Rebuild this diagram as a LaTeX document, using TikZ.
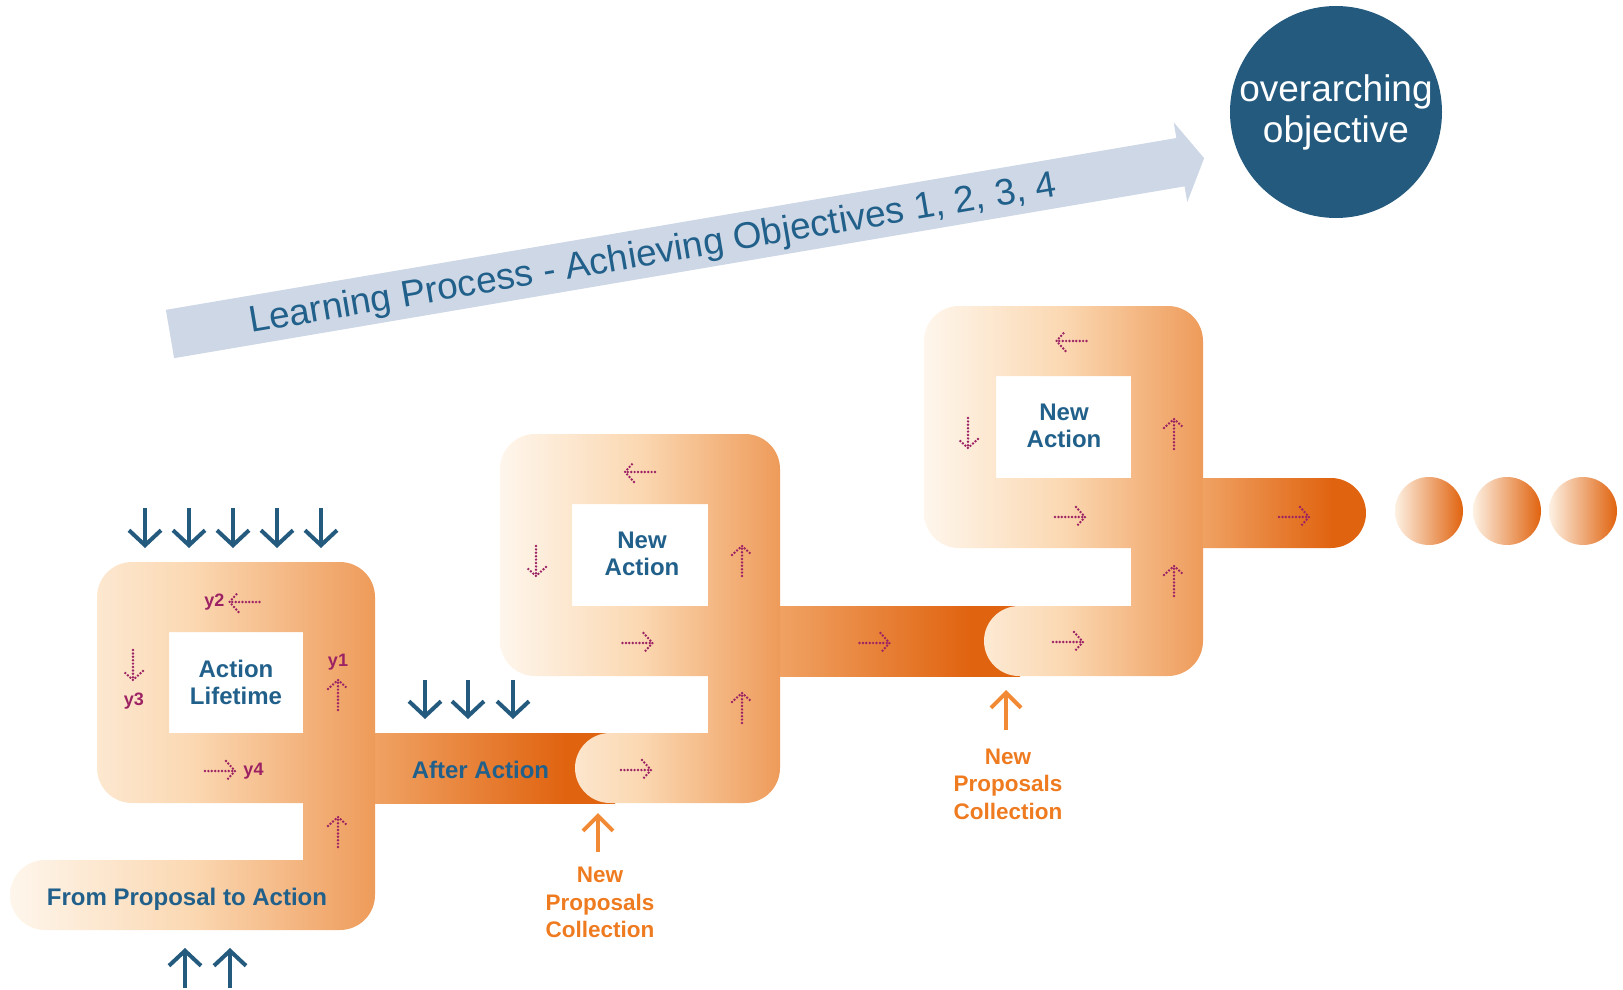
\documentclass[tikz,border=0pt]{standalone}
\usepackage{fontspec}
\setmainfont{Liberation Sans}
\usetikzlibrary{arrows.meta}
\definecolor{pcA}{HTML}{FEF6EC}
\definecolor{pcM}{HTML}{FBD8B2}
\definecolor{pcB}{HTML}{EE9B5A}
\definecolor{dkA}{HTML}{F0A365}
\definecolor{dkB}{HTML}{E0630F}
\definecolor{circA}{HTML}{FDF1E3}
\definecolor{navy}{HTML}{235A7E}
\definecolor{txtblue}{HTML}{21608A}
\definecolor{purp}{HTML}{9C2264}
\definecolor{orng}{HTML}{EF7B20}
\definecolor{orarrow}{HTML}{F28A35}
\definecolor{paleblue}{HTML}{CDD7E5}
\pgfdeclarehorizontalshading{pieceshade}{100bp}{color(0bp)=(pcA); color(25bp)=(pcA); color(50bp)=(pcM); color(75bp)=(pcB); color(100bp)=(pcB)}
\pgfdeclarehorizontalshading{darkshade}{100bp}{color(0bp)=(dkA); color(25bp)=(dkA); color(65bp)=(dkB); color(100bp)=(dkB)}
\newcommand\mypiece[6]{%
  \shade[shading=pieceshade, even odd rule]
   (#3-72,#5) -- (#3-72,#4) -- (#1+35,#4)
   .. controls (#1+15.7,#4) and (#1,#4-15.7) .. (#1,#4-35)
   -- (#1,#2+35) .. controls (#1,#2+15.7) and (#1+15.7,#2) .. (#1+35,#2)
   -- (#3-35,#2) .. controls (#3-15.7,#2) and (#3,#2+15.7) .. (#3,#2+35)
   -- (#3,#5+35) .. controls (#3,#5+54.3) and (#3-15.7,#5+70) .. (#3-35,#5+70)
   -- (#6+35,#5+70) .. controls (#6+15.7,#5+70) and (#6,#5+54.3) .. (#6,#5+35)
   .. controls (#6,#5+15.7) and (#6+15.7,#5) .. (#6+35,#5) -- cycle
   (#1+72,#2+70) rectangle (#3-72,#4-70);
}
\tikzset{
 lbl/.style={text=txtblue, font=\fontsize{24}{27}\selectfont\bfseries, align=center, inner sep=0pt},
 ylbl/.style={text=purp, font=\fontsize{18}{20}\selectfont\bfseries, inner sep=0pt},
 olbl/.style={text=orng, font=\fontsize{22.5}{27.5}\selectfont\bfseries, align=center, inner sep=0pt},
 bluearr/.style={draw=navy, line width=4pt, -{Straight Barb[length=15pt,width=32pt]}},
 orarr/.style={draw=orarrow, line width=4pt, -{Straight Barb[length=15pt,width=30pt]}},
 dotline/.style={draw=purp, line width=2.7pt, line cap=round, dash pattern=on 0pt off 3.4pt},
 darr/.pic={\draw[dotline] (-15,0) -- (15,0); \draw[dotline] (6,-10) -- (15,0) -- (6,10);},
}
\begin{document}
\begin{tikzpicture}[x=1pt,y=-1pt]
\useasboundingbox (0,0) rectangle (1623,990);
% big arrow
\begin{scope}[shift={(170,334)}, rotate=9.65]
 \fill[paleblue] (0,-24.5) -- (1025,-24.5) -- (1025,-40.5) -- (1049,0) -- (1025,40.5) -- (1025,24.5) -- (0,24.5) -- cycle;
\end{scope}
\node[anchor=base, rotate=9.65, text=txtblue, font=\fontsize{37}{40}\selectfont, inner sep=0pt] (lp) at (654.6,264.4) {Learning Process - Achieving Objectives 1, 2, 3, 4};
% goal circle
\node[circle, fill=navy, minimum size=212pt, inner sep=0pt, text=white, align=center, font=\fontsize{37}{41}\selectfont] (goal) at (1336,112) {overarching\\objective};
% dark bands
\shade[shading=darkshade] (372,733) rectangle (615,803);
\shade[shading=darkshade] (777,606) rectangle (1020,676);
\shade[shading=darkshade] (1200,478) -- (1331,478) .. controls (1350.3,478) and (1366,493.7) .. (1366,513) .. controls (1366,532.3) and (1350.3,548) .. (1331,548) -- (1200,548) -- cycle;
% pieces
\mypiece{97}{562}{375}{803}{860}{10}
\mypiece{500}{434}{780}{676}{733}{575}
\mypiece{924}{306}{1203}{548}{606}{984}
% dots
\foreach \cx in {1429,1507,1583} \shade[left color=circA, right color=dkB] (\cx,511) circle[radius=34];
% texts
\node[lbl] (lifetime) at (236,682) {Action\\Lifetime};
\node[lbl] (newact2) at (642,554) {New\\Action};
\node[lbl] (newact3) at (1064,425.5) {New\\Action};
\node[lbl, anchor=base] (after) at (480.5,778) {After Action};
\node[lbl, anchor=base] (from) at (187,905) {From Proposal to Action};
\node[olbl] (npc1) at (600,902.5) {New\\Proposals\\Collection};
\node[olbl] (npc2) at (1008,784) {New\\Proposals\\Collection};
\node[ylbl, anchor=base] (y2) at (214.5,606) {y2};
\node[ylbl, anchor=base] (y1) at (338,666) {y1};
\node[ylbl, anchor=base] (y3) at (134,705) {y3};
\node[ylbl, anchor=base] (y4) at (253.5,775) {y4};
% orange arrows
\coordinate (o1a) at (598,852); \coordinate (o1b) at (598,813);
\coordinate (o2a) at (1006,730); \coordinate (o2b) at (1006,690);
\draw[orarr] (o1a) -- (o1b);
\draw[orarr] (o2a) -- (o2b);
% blue arrows
\foreach \x in {145,189,233,277,321} \draw[bluearr] (\x,508) -- (\x,548);
\foreach \x in {425,468,513} \draw[bluearr] (\x,680) -- (\x,719);
\foreach \x in {185,230} \draw[bluearr] (\x,988) -- (\x,948);
% dotted arrows piece 1
\pic[rotate=180] at (244.5,602) {darr};
\pic[rotate=90] at (338,695) {darr};
\pic[rotate=-90] at (133,665) {darr};
\pic at (220,771) {darr};
\pic[rotate=90] at (338,832) {darr};
% piece 2
\pic[rotate=180] at (640,472) {darr};
\pic[rotate=-90] at (536,561) {darr};
\pic[rotate=90] at (742,561) {darr};
\pic at (637.5,643) {darr};
\pic[rotate=90] at (742,708) {darr};
\pic at (636,770) {darr};
% piece 3
\pic[rotate=180] at (1071.5,341) {darr};
\pic[rotate=-90] at (968,433) {darr};
\pic[rotate=90] at (1174,434) {darr};
\pic at (1070,517) {darr};
\pic[rotate=90] at (1174,581) {darr};
\pic at (1068,642) {darr};
\pic at (874.5,643) {darr};
\pic at (1294,517) {darr};
\end{tikzpicture}
\end{document}
